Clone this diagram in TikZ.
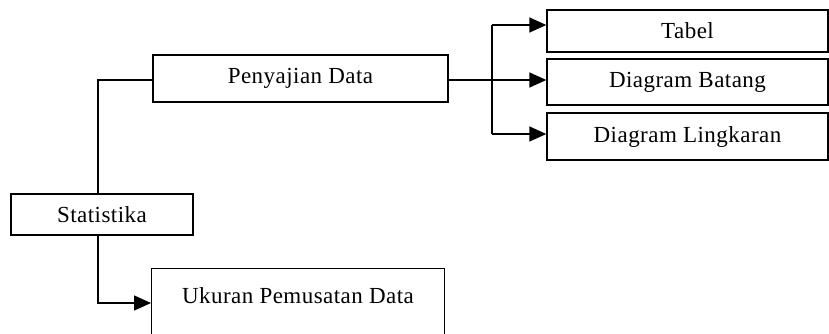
\documentclass[tikz,border=0pt]{standalone}
\usepackage{fontspec}
\setmainfont[LetterSpace=2]{Liberation Serif}
\usetikzlibrary{arrows.meta}
\begin{document}
\begin{tikzpicture}[x=1pt,y=-1pt,
  txt/.style={font=\fontsize{23}{26}\selectfont},
  box/.style={draw,line width=1.4pt,inner sep=0pt,txt},
  conn/.style={line width=1.6pt},
  arr/.style={conn,-{Triangle[length=17pt,width=15pt]}}]
\useasboundingbox (0,0) rectangle (829,333);
\begin{scope}
\clip (0,0) rectangle (829,333);
\node[box,minimum width=295,minimum height=47] (pen) at (300.5,78.5) {Penyajian Data};
\node[box,minimum width=182,minimum height=41] (stat) at (102,214.5) {Statistika};
\node[box,minimum width=293,minimum height=90,anchor=north west] (uk) at (151,268) {};
\node[txt,inner sep=0pt] (uktext) at (298,296) {Ukuran Pemusatan Data};
\node[box,minimum width=281,minimum height=42] (tab) at (687.5,31) {Tabel};
\node[box,minimum width=281,minimum height=46] (bat) at (687.5,82) {Diagram Batang};
\node[box,minimum width=281,minimum height=47] (lin) at (687.5,136.5) {Diagram Lingkaran};
\coordinate (s1) at (98,80);
\coordinate (u1) at (98,303);
\coordinate (j2) at (492,80);
\coordinate (a1) at (492,25);
\coordinate (a3) at (492,134);
\draw[conn] (s1 |- stat.north) -- (s1) -- (pen.west |- s1);
\draw[arr] (s1 |- stat.south) -- (u1) -- (uk.west |- u1);
\draw[conn] (pen.east |- j2) -- (j2);
\draw[conn] (a1) -- (a3);
\draw[arr] (a1) -- (tab.west |- a1);
\draw[arr] (j2) -- (bat.west |- j2);
\draw[arr] (a3) -- (lin.west |- a3);
\end{scope}
\end{tikzpicture}
\end{document}
